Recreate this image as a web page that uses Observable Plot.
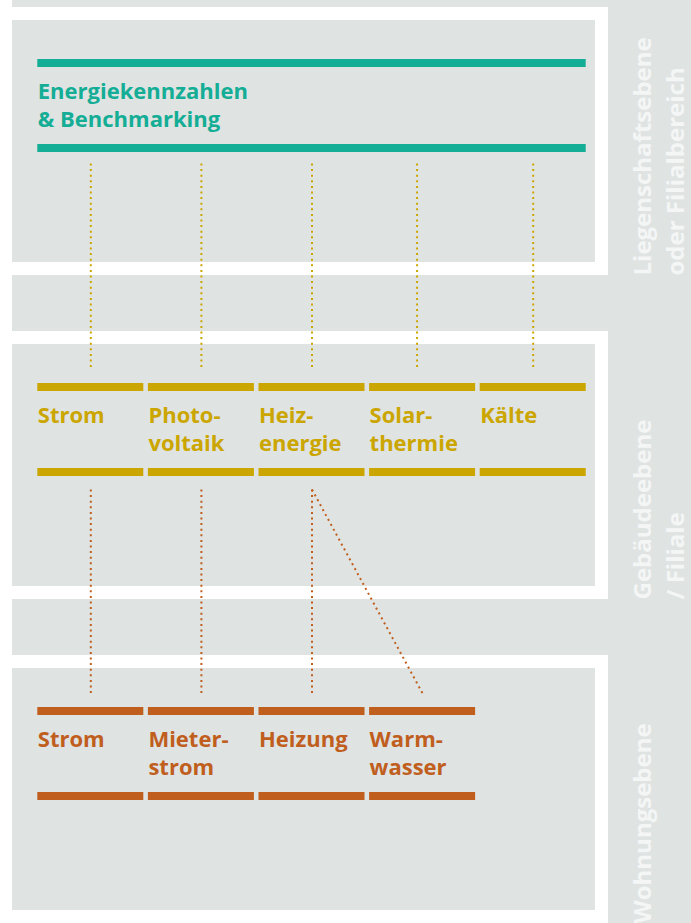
<!DOCTYPE html>
<html><head><meta charset="utf-8">
<script src="https://cdn.jsdelivr.net/npm/d3@7"></script>
<script src="https://cdn.jsdelivr.net/npm/@observablehq/plot@0.6"></script>
<style>html,body{margin:0;padding:0;background:#dfe3e2;overflow:hidden}#chart svg{display:block}</style>
</head><body><div id="chart"></div>
<script>
// ---- Data ----
const levelLabels = [["Liegenschaftsebene", "oder Filialbereich"], ["Gebäudeebene", "/ Filiale"], ["Wohnungsebene"]];
const propertyItems = [["Energiekennzahlen", "& Benchmarking"]];
const buildingItems = [["Strom"], ["Photo-", "voltaik"], ["Heiz-", "energie"], ["Solar-", "thermie"], ["Kälte"]];
const apartmentItems = [["Strom"], ["Mieter-", "strom"], ["Heizung"], ["Warm-", "wasser"]];
const propertyLinkColumns = [0, 1, 2, 2.95, 4];            // dotted links property -> building
const buildingToApartment = [[0, 0], [1, 1], [2, 2], [2, 3]]; // [from building column, to apartment column]
const levelColors = ["#14ad95", "#cca600", "#c05e1e"];

// ---- Layout ----
const W = 691, H = 923;
const grey = "#dfe3e2";
const panelTop = k => 7 + 324 * k;
const panelH = 268, frame = 13, frameRight = 608, leftStrip = 12;
const colLeft = c => 37.3 + 110.6 * c, barW = 106;
const colCenter = c => colLeft(c) + barW / 2;
const font = "'Open Sans', sans-serif";

const panels = [0, 1, 2].map(k => ({k, top: panelTop(k)}));

// bars and labels for each level
const levelItems = [propertyItems, buildingItems, apartmentItems];
const bars = [], labels = [];
levelItems.forEach((items, k) => {
  items.forEach((lines, i) => {
    const spanCols = k === 0 ? 5 : 1;
    const x1 = colLeft(i), x2 = colLeft(i + spanCols - 1) + barW;
    for (const off of [52, 137]) bars.push({x1, x2, y1: panelTop(k) + off, y2: panelTop(k) + off + 8, k});
    lines.forEach((t, li) => labels.push({x: x1, y: panelTop(k) + 91 + li * 28.5, t, k}));
  });
});

const links = [];
propertyLinkColumns.forEach(c => links.push({x1: colCenter(c), y1: panelTop(0) + 156, x2: colCenter(c), y2: panelTop(1) + 39, k: 1}));
buildingToApartment.forEach(([a, b]) => links.push({x1: colCenter(a), y1: panelTop(1) + 158, x2: colCenter(b), y2: panelTop(2) + 38, k: 2}));

const sideLabels = [];
levelLabels.forEach((lines, k) => lines.forEach((t, li) => sideLabels.push({x: 650 + li * 33.3, y: panelTop(k) + panelH, t})));

const chart = Plot.plot({
  width: W, height: H,
  margin: 0,
  x: {domain: [0, W], range: [0, W], axis: null},
  y: {domain: [0, H], range: [0, H], axis: null},
  style: {background: grey},
  marks: [
    Plot.rect(panels, {x1: leftStrip, x2: frameRight, y1: d => d.top, y2: d => d.top + panelH, fill: "white"}),
    Plot.rect(panels, {x1: leftStrip, x2: frameRight - frame, y1: d => d.top + frame, y2: d => d.top + panelH - frame, fill: grey}),
    Plot.rect([0], {x1: 0, x2: leftStrip, y1: 0, y2: H, fill: "white"}),
    Plot.link(links, {x1: "x1", y1: "y1", x2: "x2", y2: "y2", stroke: d => levelColors[d.k], strokeWidth: 2, strokeDasharray: "2 3.6"}),
    Plot.rect(bars, {x1: "x1", x2: "x2", y1: "y1", y2: "y2", fill: d => levelColors[d.k]}),
    Plot.text(labels, {x: "x", y: "y", text: "t", fill: d => levelColors[d.k], textAnchor: "start", lineAnchor: "bottom", fontSize: 22, fontWeight: 700, fontFamily: font}),
    Plot.text(sideLabels, {x: "x", y: "y", text: "t", rotate: -90, fill: "#f4f6f6", textAnchor: "start", lineAnchor: "bottom", fontSize: 24, fontWeight: 700, fontFamily: font})
  ]
});
document.getElementById("chart").appendChild(chart);
</script>
</body></html>
